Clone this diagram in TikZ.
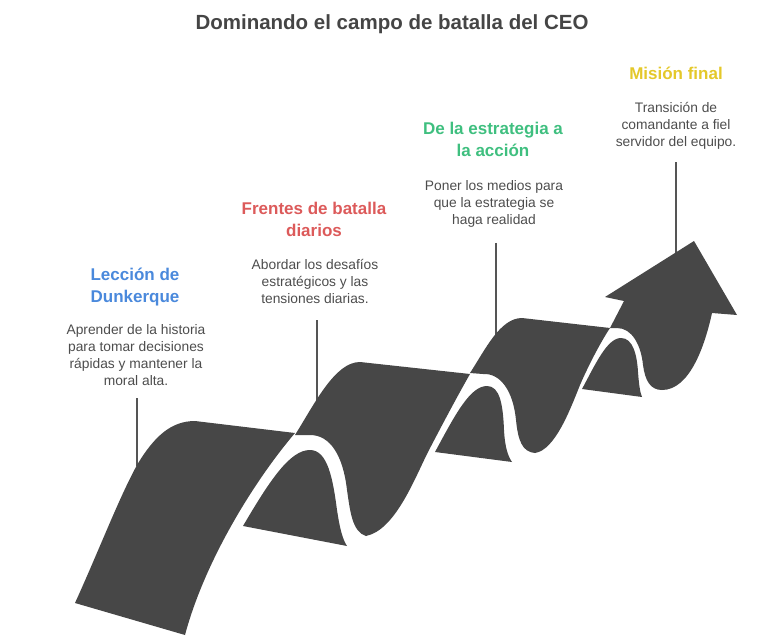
\documentclass[tikz,border=0pt]{standalone}
\usepackage{fontspec}
\setmainfont{Liberation Sans}
\definecolor{ribbon}{HTML}{474747}
\definecolor{ink}{HTML}{454545}
\definecolor{bodyink}{HTML}{4D4D4D}
\definecolor{pinline}{HTML}{555555}
\definecolor{lecblue}{HTML}{4A89DC}
\definecolor{frered}{HTML}{DC5A5A}
\definecolor{estgreen}{HTML}{3FBF7F}
\definecolor{misyellow}{HTML}{E4C82A}

\begin{document}
\begin{tikzpicture}[x=1pt, y=-1pt,
    head/.style={font=\fontsize{17}{22}\selectfont\bfseries, align=center, inner sep=0pt},
    body/.style={font=\fontsize{13.8}{17}\selectfont, align=center, text=bodyink, inner sep=0pt},
    pin/.style={draw=pinline, line width=1.4pt}]
  \useasboundingbox (0,0) rectangle (768,642);
  \node[anchor=base, font=\fontsize{20.5}{24}\selectfont\bfseries, text=ink] (title) at (392,30)
    {Dominando el campo de batalla del CEO};

  \node[head, text=lecblue] (lechead) at (135,287.5) {Lección de\\Dunkerque};
  \node[body] (lecbody) at (136,355) {Aprender de la historia\\para tomar decisiones\\rápidas y mantener la\\moral alta.};
  \node[head, text=frered] (frehead) at (314,219.3) {Frentes de batalla\\diarios};
  \node[body] (frebody) at (315,281.4) {Abordar los desafíos\\estratégicos y las\\tensiones diarias.};
  \node[head, text=estgreen] (esthead) at (493,139.4) {De la estrategia a\\la acción};
  \node[body] (estbody) at (494,203.7) {Poner los medios para\\que la estrategia se\\haga realidad};
  \node[head, text=misyellow, anchor=base] (mishead) at (676,80) {Misión final};
  \node[body] (misbody) at (676,126) {Transición de\\comandante a fiel\\servidor del equipo.};

  \coordinate (lecend) at (137,466);
  \coordinate (freend) at (317,401);
  \coordinate (estend) at (496,335);
  \coordinate (misend) at (676,254);
  \draw[pin] (lecend |- lecbody.south) ++(0,12.5) -- (lecend);
  \draw[pin] (freend |- frebody.south) ++(0,16.5) -- (freend);
  \draw[pin] (estend |- estbody.south) ++(0,15.6) -- (estend);
  \draw[pin] (misend |- misbody.south) ++(0,12.6) -- (misend);

  \fill[ribbon] (75,603) .. controls (100,548) and (118,500) .. (137,465)
    .. controls (155,435) and (172,421) .. (195,421) -- (295,433)
    .. controls (255,480) and (205,560) .. (185,635) -- cycle;
  \fill[ribbon] (243,526) .. controls (270,480) and (290,450) .. (310,450)
    .. controls (328,450) and (333,480) .. (337,510)
    .. controls (340,530) and (343,540) .. (347,546) -- cycle;
  \fill[ribbon] (295,435) .. controls (315,403) and (335,362) .. (360,362) -- (470,374)
    .. controls (458,395) and (442,425) .. (428,452)
    .. controls (414,480) and (395,530) .. (366,536)
    .. controls (352,532) and (350,510) .. (347,490)
    .. controls (343,455) and (330,435) .. (310,435) -- cycle;
  \fill[ribbon] (435,452) .. controls (455,415) and (470,386) .. (487,386)
    .. controls (500,386) and (503,405) .. (504,430)
    .. controls (505,448) and (508,456) .. (512,462) -- cycle;
  \fill[ribbon] (470,373) .. controls (485,350) and (500,318) .. (522,318) -- (610,328)
    .. controls (602,340) and (590,362) .. (580,385)
    .. controls (570,410) and (555,450) .. (535,453)
    .. controls (522,452) and (518,440) .. (516,420)
    .. controls (513,390) and (500,373) .. (483,374) -- cycle;
  \fill[ribbon] (582,389) .. controls (595,365) and (607,338) .. (621,338)
    .. controls (633,338) and (637,355) .. (638,372)
    .. controls (639,385) and (640,392) .. (642,397) -- cycle;
  \fill[ribbon] (610,328) -- (624,301) -- (605,297) -- (694,241) -- (737,315) -- (712,313)
    .. controls (705,345) and (690,390) .. (662,390)
    .. controls (650,390) and (645,380) .. (643,365)
    .. controls (641,345) and (632,328) .. (617,328) -- cycle;
\end{tikzpicture}
\end{document}
